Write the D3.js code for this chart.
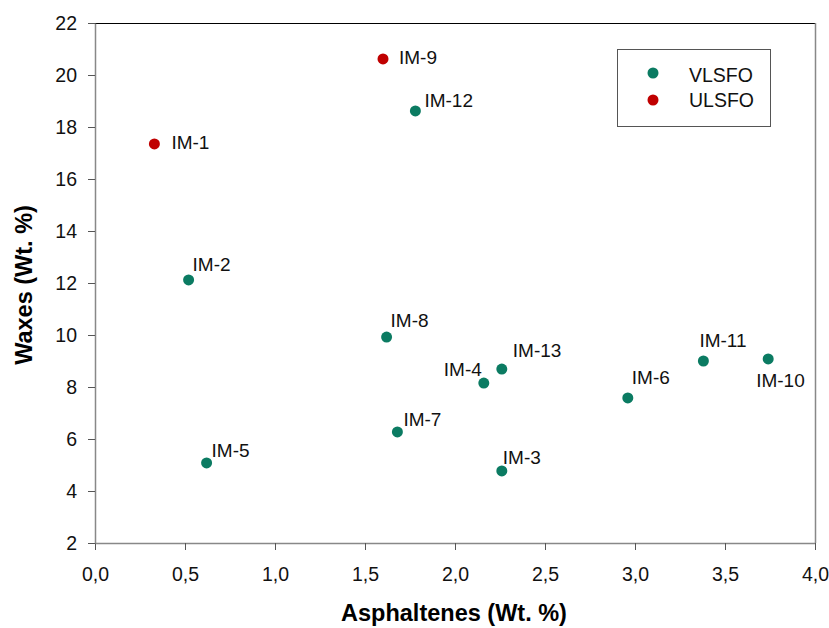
<!DOCTYPE html>
<html>
<head>
<meta charset="utf-8">
<script src="https://cdn.jsdelivr.net/npm/d3@7"></script>
<style>
  body { margin: 0; background: #fff; }
  svg { font-family: "Liberation Sans", Arial, sans-serif; }
</style>
</head>
<body>
<svg id="chart"></svg>
<script>
// data
const samples = ['IM-1', 'IM-2', 'IM-3', 'IM-4', 'IM-5', 'IM-6', 'IM-7', 'IM-8', 'IM-9', 'IM-10', 'IM-11', 'IM-12', 'IM-13'];
const asphaltenes = [0.33, 0.52, 2.26, 2.16, 0.62, 2.96, 1.68, 1.62, 1.60, 3.74, 3.38, 1.78, 2.26];
const waxes = [17.35, 12.12, 4.77, 8.15, 5.08, 7.58, 6.27, 9.92, 20.62, 9.08, 9.0, 18.62, 8.69];
const fuelType = ['ULSFO', 'VLSFO', 'VLSFO', 'VLSFO', 'VLSFO', 'VLSFO', 'VLSFO', 'VLSFO', 'ULSFO', 'VLSFO', 'VLSFO', 'VLSFO', 'VLSFO'];
const seriesNames = ['VLSFO', 'ULSFO'];
const xTicks = [0, 0.5, 1, 1.5, 2, 2.5, 3, 3.5, 4];
const yTicks = [2, 4, 6, 8, 10, 12, 14, 16, 18, 20, 22];

// label placement next to each point (dx, dy, anchor)
const labelPos = {
  'IM-1': [17, 5, 'start'], 'IM-2': [4, -9, 'start'], 'IM-3': [1, -7, 'start'],
  'IM-4': [-2, -7, 'end'], 'IM-5': [5, -6, 'start'], 'IM-6': [4, -14, 'start'],
  'IM-7': [6, -6, 'start'], 'IM-8': [4, -10, 'start'], 'IM-9': [16, 5, 'start'],
  'IM-10': [-12, 28, 'start'], 'IM-11': [-4, -14, 'start'], 'IM-12': [9, -4, 'start'],
  'IM-13': [11, -12, 'start']
};

const width = 829, height = 628;
const mLeft = 95, mRight = 815, mTop = 23, mBottom = 543;

const svg = d3.select('#chart').attr('width', width).attr('height', height);

const x = d3.scaleLinear().domain([0, 4]).range([mLeft, mRight]);
const y = d3.scaleLinear().domain([2, 22]).range([mBottom, mTop]);
const color = d3.scaleOrdinal().domain(seriesNames).range(['#0b7b62', '#c00000']);

// frame: top and right
svg.append('line').attr('x1', mLeft).attr('x2', mRight).attr('y1', mTop + 0.5).attr('y2', mTop + 0.5)
  .attr('stroke', '#000').attr('stroke-width', 1);
svg.append('line').attr('x1', mRight + 0.5).attr('x2', mRight + 0.5).attr('y1', mTop).attr('y2', mBottom)
  .attr('stroke', '#888').attr('stroke-width', 1.5);

// axes
const xAxis = svg.append('g').attr('transform', 'translate(0,' + mBottom + ')')
  .call(d3.axisBottom(x).tickValues(xTicks).tickSize(7).tickSizeOuter(0)
    .tickFormat(d => d3.format('.1f')(d).replace('.', ',')));
const yAxis = svg.append('g').attr('transform', 'translate(' + mLeft + ',0)')
  .call(d3.axisLeft(y).tickValues(yTicks).tickSize(7).tickSizeOuter(0));

[xAxis, yAxis].forEach(g => {
  g.select('.domain').attr('stroke', '#888').attr('stroke-width', 1.5);
  g.selectAll('.tick line').attr('stroke', '#555');
  g.selectAll('.tick text').attr('fill', '#111').style('font-size', '19.5px');
});
xAxis.selectAll('.tick text').attr('y', 38).attr('dy', 0);
yAxis.selectAll('.tick text').attr('x', -18);

// axis titles
svg.append('text').attr('x', 454).attr('y', 621)
  .attr('text-anchor', 'middle').style('font-size', '23.5px').style('font-weight', 'bold')
  .text('Asphaltenes (Wt. %)');
svg.append('text').attr('transform', 'translate(32,285) rotate(-90)')
  .attr('text-anchor', 'middle').style('font-size', '23.5px').style('font-weight', 'bold')
  .text('Waxes (Wt. %)');

// points
const pts = samples.map((s, i) => ({ name: s, ax: asphaltenes[i], wx: waxes[i], type: fuelType[i] }));

svg.append('g').selectAll('circle').data(pts).enter().append('circle')
  .attr('cx', d => x(d.ax)).attr('cy', d => y(d.wx)).attr('r', 5.5)
  .attr('fill', d => color(d.type));

svg.append('g').selectAll('text').data(pts).enter().append('text')
  .attr('x', d => x(d.ax) + labelPos[d.name][0])
  .attr('y', d => y(d.wx) + labelPos[d.name][1])
  .attr('text-anchor', d => labelPos[d.name][2])
  .style('font-size', '19px').attr('fill', '#111')
  .text(d => d.name);

// legend
const legend = svg.append('g');
legend.append('rect').attr('x', 617.5).attr('y', 49.5).attr('width', 153).attr('height', 77)
  .attr('fill', '#fff').attr('stroke', '#555').attr('stroke-width', 1);
seriesNames.forEach((s, i) => {
  legend.append('circle').attr('cx', 653).attr('cy', 73 + i * 27).attr('r', 5.5).attr('fill', color(s));
  legend.append('text').attr('x', 689).attr('y', 82 + i * 25).style('font-size', '19.5px')
    .attr('fill', '#111').text(s);
});
</script>
</body>
</html>
